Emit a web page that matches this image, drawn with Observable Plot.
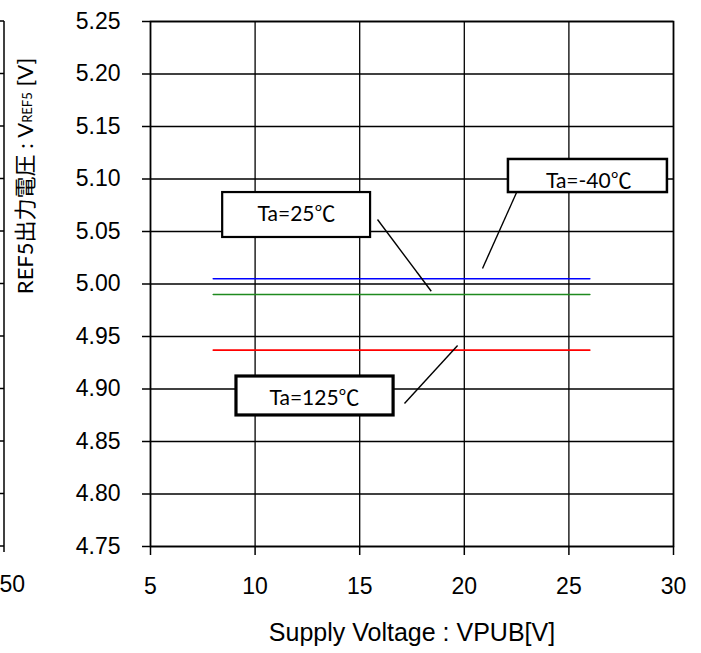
<!DOCTYPE html>
<html><head><meta charset="utf-8">
<script src="https://cdn.jsdelivr.net/npm/d3@7"></script>
<script src="https://cdn.jsdelivr.net/npm/@observablehq/plot@0.6"></script>
<style>body{margin:0;background:#fff}</style>
</head><body><div id="chart"></div>
<script>
// ---- data ----
const supplyV   = [8, 10, 12, 14, 16, 18, 20, 22, 24, 26];
const vrefM40   = [5.005, 5.005, 5.005, 5.005, 5.005, 5.005, 5.005, 5.005, 5.005, 5.005];
const vref25    = [4.990, 4.990, 4.990, 4.990, 4.990, 4.990, 4.990, 4.990, 4.990, 4.990];
const vref125   = [4.937, 4.937, 4.937, 4.937, 4.937, 4.937, 4.937, 4.937, 4.937, 4.937];
const seriesNames  = ["Ta=-40℃", "Ta=25℃", "Ta=125℃"];
const seriesColors = ["#0000ff", "#1f8a1f", "#ff0000"];
const xTicks = [5, 10, 15, 20, 25, 30];
const yTicks = [4.75, 4.80, 4.85, 4.90, 4.95, 5.00, 5.05, 5.10, 5.15, 5.20, 5.25];
const xTitle = "Supply Voltage : VPUB[V]";

// annotation callouts (data coordinates)
const calloutText = ["Ta=25℃", "Ta=-40℃", "Ta=125℃"];
const boxX1 = [8.45, 22.11, 9.11];
const boxX2 = [15.52, 29.71, 16.62];
const boxY1 = [5.0443, 5.0871, 4.8748];
const boxY2 = [5.0871, 5.1186, 4.9119];
const boxW  = [2.2, 2.5, 3.2];
const textX = [11.98, 25.95, 12.84];
const textY = [5.066, 5.0975, 4.891];
const leadX1 = [15.85, 22.54, 17.14];
const leadY1 = [5.0614, 5.0890, 4.8862];
const leadX2 = [18.42, 20.87, 19.68];
const leadY2 = [4.9931, 5.0148, 4.9414];

// ---- build tables ----
const seriesVals = [vrefM40, vref25, vref125];
const rows = [];
seriesNames.forEach((s, i) => supplyV.forEach((v, j) => rows.push({series: s, x: v, y: seriesVals[i][j]})));
const callouts = calloutText.map((t, i) => ({
  t, x1: boxX1[i], x2: boxX2[i], y1: boxY1[i], y2: boxY2[i], sw: boxW[i],
  tx: textX[i], ty: textY[i], lx1: leadX1[i], ly1: leadY1[i], lx2: leadX2[i], ly2: leadY2[i]
}));

const plot = Plot.plot({
  width: 701, height: 653,
  marginLeft: 150, marginRight: 28, marginTop: 21, marginBottom: 107,
  x: {domain: [5, 30]},
  y: {domain: [4.75, 5.25]},
  color: {domain: seriesNames, range: seriesColors},
  style: {fontFamily: "'Liberation Sans', Arial, sans-serif", fontSize: "23px", color: "#000", background: "#fff"},
  marks: [
    Plot.ruleX(xTicks, {stroke: "#000", strokeWidth: 1.3}),
    Plot.ruleY(yTicks, {stroke: "#000", strokeWidth: 1.3}),
    Plot.frame({stroke: "#000", strokeWidth: 1.6}),
    Plot.line(rows, {x: "x", y: "y", stroke: "series", strokeWidth: 1.6}),
    Plot.link(callouts, {x1: "lx1", y1: "ly1", x2: "lx2", y2: "ly2", stroke: "#000", strokeWidth: 1.4}),
    ...callouts.map(c => Plot.rect([c], {x1: "x1", x2: "x2", y1: "y1", y2: "y2", fill: "#fff", stroke: "#000", strokeWidth: c.sw})),
    Plot.text(callouts, {x: "tx", y: "ty", text: "t", fontFamily: "Lato, 'Noto Sans CJK JP', sans-serif", fontSize: 21, fill: "#000"}),
    Plot.axisY({ticks: yTicks, tickSize: 8, tickPadding: 22, tickFormat: d3.format(".2f"), label: null, strokeWidth: 1.5, fontSize: 23}),
    Plot.axisX({ticks: xTicks, tickSize: 9, tickPadding: 22, label: null, strokeWidth: 1.5, fontSize: 23}),
    Plot.text([xTitle], {frameAnchor: "bottom", lineAnchor: "middle", dy: 86, fontSize: 25})
  ]
});

document.getElementById("chart").appendChild(plot);

// y-axis title with subscript
const svg = d3.select(plot.tagName.toLowerCase() === "svg" ? plot : plot.querySelector("svg"));
const yT = svg.append("text")
  .attr("transform", "translate(27,176) rotate(-90)")
  .attr("text-anchor", "middle")
  .attr("dominant-baseline", "middle")
  .attr("font-family", "Lato, 'Noto Sans CJK JP', sans-serif")
  .attr("font-size", 22)
  .attr("fill", "#000");
yT.append("tspan").text("REF5出力電圧 : V");
yT.append("tspan").attr("font-size", 13).attr("dy", 2).text("REF5");
yT.append("tspan").attr("dy", -2).text(" [V]");

// neighbouring chart's cropped edge
const yScale = plot.scale("y");
const g = svg.append("g").attr("stroke", "#000").attr("stroke-width", 1.5);
g.append("line").attr("x1", 4).attr("x2", 4).attr("y1", yScale.apply(5.25)).attr("y2", yScale.apply(4.75) + 6);
yTicks.forEach(v => g.append("line").attr("x1", -4).attr("x2", 4).attr("y1", yScale.apply(v)).attr("y2", yScale.apply(v)));
svg.append("text").attr("x", 25).attr("y", yScale.apply(4.75) + 46).attr("text-anchor", "end")
  .attr("font-family", "'Liberation Sans', Arial, sans-serif").attr("font-size", 23).text("50");
</script></body></html>
